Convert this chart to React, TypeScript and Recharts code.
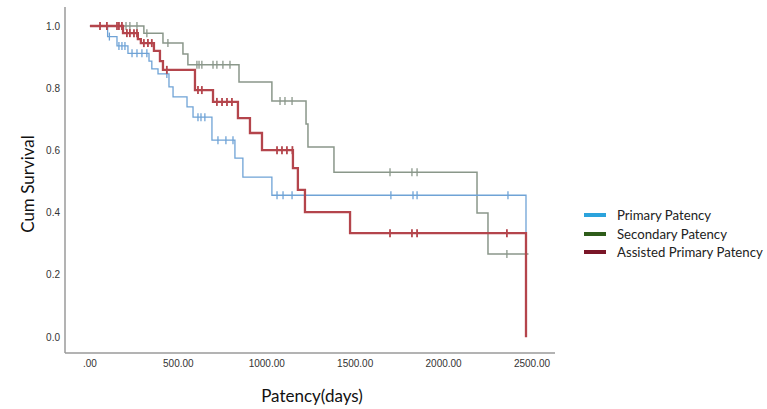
import { ComposedChart, Line, Scatter, XAxis, YAxis } from "recharts";

// Kaplan-Meier step points: time (days) and cumulative survival after each event
const primaryTimes = [0, 100, 153, 215, 334, 350, 385, 447, 470, 549, 583, 690, 820, 865, 1029, 2466];
const primaryValues = [1.0, 0.966, 0.936, 0.912, 0.887, 0.862, 0.846, 0.804, 0.772, 0.74, 0.707, 0.633, 0.575, 0.514, 0.456, 0.337];

const secondaryTimes = [0, 305, 413, 526, 554, 843, 1029, 1222, 1233, 1380, 2189, 2251, 2480];
const secondaryValues = [1.0, 0.977, 0.945, 0.91, 0.875, 0.82, 0.759, 0.685, 0.611, 0.53, 0.399, 0.267, 0.267];

const assistedTimes = [0, 187, 271, 288, 362, 396, 413, 594, 696, 837, 905, 973, 1148, 1176, 1216, 1471, 2466];
const assistedValues = [1.0, 0.977, 0.958, 0.945, 0.92, 0.887, 0.859, 0.794, 0.756, 0.704, 0.656, 0.601, 0.543, 0.473, 0.402, 0.334, 0.0];

// censored cases (tick marks)
const primaryCensorTimes = [110, 164, 181, 198, 238, 266, 294, 322, 435, 611, 628, 650, 724, 769, 809, 1058, 1092, 1143, 1702, 1827, 1850, 2364];
const primaryCensorValues = [0.966, 0.936, 0.936, 0.936, 0.912, 0.912, 0.912, 0.912, 0.846, 0.707, 0.707, 0.707, 0.633, 0.633, 0.633, 0.456, 0.456, 0.456, 0.456, 0.456, 0.456, 0.456];

const secondaryCensorTimes = [204, 226, 266, 322, 441, 605, 617, 633, 696, 718, 752, 792, 1075, 1103, 1143, 1697, 1821, 1850, 2358];
const secondaryCensorValues = [1.0, 1.0, 1.0, 0.977, 0.945, 0.875, 0.875, 0.875, 0.875, 0.875, 0.875, 0.875, 0.759, 0.759, 0.759, 0.53, 0.53, 0.53, 0.267];

const assistedCensorTimes = [57, 96, 153, 164, 181, 209, 226, 249, 266, 305, 328, 350, 435, 611, 633, 718, 747, 775, 803, 1058, 1086, 1114, 1145, 1697, 1821, 1850, 2358];
const assistedCensorValues = [1.0, 1.0, 1.0, 1.0, 1.0, 0.977, 0.977, 0.977, 0.977, 0.945, 0.945, 0.945, 0.859, 0.794, 0.794, 0.756, 0.756, 0.756, 0.756, 0.601, 0.601, 0.601, 0.601, 0.334, 0.334, 0.334, 0.334];

const xTicks = [0, 500, 1000, 1500, 2000, 2500];
const yTicks = [0, 0.2, 0.4, 0.6, 0.8, 1.0];

const legendItems = [
  { name: "Primary Patency", color: "#2ba3dc" },
  { name: "Secondary Patency", color: "#2e5c1a" },
  { name: "Assisted Primary Patency", color: "#7a1628" },
];

const toPoints = (times: number[], values: number[]) =>
  times.map((t, i) => ({ t, s: values[i] }));

const censorMark = (color: string, width: number) => (props: any) => {
  const { cx, cy } = props;
  if (cx == null || cy == null) return <g />;
  return <line x1={cx} x2={cx} y1={cy - 4} y2={cy + 4} stroke={color} strokeWidth={width} />;
};

const BLUE = "#6fa3d6";
const GREEN = "#8a978a";
const RED = "#b4454c";

export default function App() {
  return (
    <div style={{ position: "absolute", left: 0, top: 0, width: 767, height: 409, background: "#fff" }}>
      <ComposedChart width={767} height={409} margin={{ top: 7, right: 212, bottom: 0, left: 0 }}>
        <XAxis
          dataKey="t"
          type="number"
          domain={[-141, 2630]}
          allowDataOverflow
          ticks={xTicks}
          tickFormatter={(v: number) => (v === 0 ? ".00" : v.toFixed(2))}
          axisLine={{ stroke: "#9a9a9a", strokeWidth: 1.5 }}
          tickLine={false}
          tickSize={0}
          tickMargin={7}
          height={56}
          tick={{ fontSize: 10, fill: "#333", fontFamily: "Liberation Sans, Arial, sans-serif" }}
        />
        <YAxis
          type="number"
          domain={[-0.051, 1.061]}
          allowDataOverflow
          ticks={yTicks}
          tickFormatter={(v: number) => v.toFixed(1)}
          axisLine={{ stroke: "#9a9a9a", strokeWidth: 1.5 }}
          tickLine={false}
          tickSize={0}
          tickMargin={5}
          width={65}
          tick={{ fontSize: 10, fill: "#333", fontFamily: "Liberation Sans, Arial, sans-serif" }}
        />
        <Line
          data={toPoints(secondaryTimes, secondaryValues)}
          dataKey="s"
          type="stepAfter"
          stroke={GREEN}
          strokeWidth={1.5}
          dot={false}
          isAnimationActive={false}
        />
        <Scatter
          data={toPoints(secondaryCensorTimes, secondaryCensorValues)}
          dataKey="s"
          shape={censorMark(GREEN, 1.3)}
          isAnimationActive={false}
        />
        <Line
          data={toPoints(primaryTimes, primaryValues)}
          dataKey="s"
          type="stepAfter"
          stroke={BLUE}
          strokeWidth={1.3}
          dot={false}
          isAnimationActive={false}
        />
        <Scatter
          data={toPoints(primaryCensorTimes, primaryCensorValues)}
          dataKey="s"
          shape={censorMark(BLUE, 1.3)}
          isAnimationActive={false}
        />
        <Line
          data={toPoints(assistedTimes, assistedValues)}
          dataKey="s"
          type="stepAfter"
          stroke={RED}
          strokeWidth={2.3}
          dot={false}
          isAnimationActive={false}
        />
        <Scatter
          data={toPoints(assistedCensorTimes, assistedCensorValues)}
          dataKey="s"
          shape={censorMark(RED, 1.8)}
          isAnimationActive={false}
        />
      </ComposedChart>
      <div
        style={{
          position: "absolute",
          left: 27,
          top: 184,
          transform: "translate(-50%, -50%) rotate(-90deg)",
          fontFamily: "Lato, sans-serif",
          fontSize: 17,
          color: "#111",
          whiteSpace: "nowrap",
        }}
      >
        Cum Survival
      </div>
      <div
        style={{
          position: "absolute",
          left: 312,
          top: 395,
          transform: "translate(-50%, -50%)",
          fontFamily: "Lato, sans-serif",
          fontSize: 17,
          color: "#111",
          whiteSpace: "nowrap",
        }}
      >
        Patency(days)
      </div>
      <div style={{ position: "absolute", left: 584, top: 206, fontFamily: "Lato, sans-serif", fontSize: 13.2, color: "#222" }}>
        {legendItems.map((item) => (
          <div key={item.name} style={{ display: "flex", alignItems: "center", height: 18.5 }}>
            <div style={{ width: 22, height: 4, background: item.color, marginRight: 11 }} />
            <span style={{ whiteSpace: "nowrap" }}>{item.name}</span>
          </div>
        ))}
      </div>
    </div>
  );
}
